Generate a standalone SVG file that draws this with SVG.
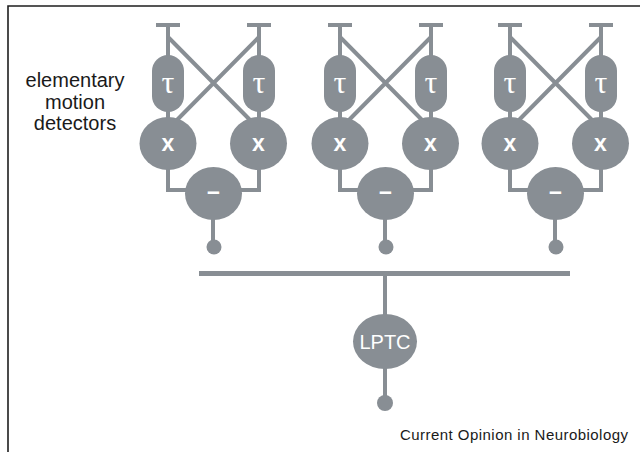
<svg xmlns="http://www.w3.org/2000/svg" width="640" height="452" viewBox="0 0 640 452">
  <style>
    .frame { fill: none; stroke: #1e1e1e; stroke-width: 1.6; }
    .wire { fill: none; stroke: #888e94; stroke-width: 4; }
    .shape { fill: #888e94; }
    .tau { font-family: "Liberation Serif", "DejaVu Serif", serif; font-size: 32px; fill: #ffffff; text-anchor: middle; }
    .op { font-family: "Liberation Sans", Arial, sans-serif; font-size: 23px; font-weight: bold; fill: #ffffff; text-anchor: middle; }
    .label { font-family: "Liberation Sans", Arial, sans-serif; font-size: 20px; fill: #1a1a1a; text-anchor: middle; }
    .lptc { font-family: "Liberation Sans", Arial, sans-serif; font-size: 20px; fill: #ffffff; text-anchor: middle; }
    .credit { font-family: "Liberation Sans", Arial, sans-serif; font-size: 15px; fill: #1a1a1a; }
  </style>

  <!-- open frame: left and top edges -->
  <path class="frame" d="M8,452 V6 H640"/>

  <text class="label" x="75" y="87">elementary</text>
  <text class="label" x="75" y="109">motion</text>
  <text class="label" x="75" y="130">detectors</text>

  <!-- connectors -->
  <g id="connectors">
    <!-- detector 1: L=168 R=259 M=213 -->
    <path class="wire" d="M156,25 H180 M168,25 V60 M247,25 H271 M259,25 V60"/>
    <path class="wire" d="M168,105 V125 M259,105 V125"/>
    <path class="wire" d="M168,37 L253,123 M259,37 L174,123"/>
    <path class="wire" d="M168,165 V190 H200 M259,165 V190 H226"/>
    <path class="wire" d="M213,215 V245"/>
    <!-- detector 2: L=340 R=431 M=385 -->
    <path class="wire" d="M328,25 H352 M340,25 V60 M419,25 H443 M431,25 V60"/>
    <path class="wire" d="M340,105 V125 M431,105 V125"/>
    <path class="wire" d="M340,37 L425,123 M431,37 L346,123"/>
    <path class="wire" d="M340,165 V190 H372 M431,165 V190 H398"/>
    <path class="wire" d="M385,215 V245"/>
    <!-- detector 3: L=510 R=601 M=555 -->
    <path class="wire" d="M498,25 H522 M510,25 V60 M589,25 H613 M601,25 V60"/>
    <path class="wire" d="M510,105 V125 M601,105 V125"/>
    <path class="wire" d="M510,37 L595,123 M601,37 L516,123"/>
    <path class="wire" d="M510,165 V190 H542 M601,165 V190 H568"/>
    <path class="wire" d="M555,215 V245"/>
    <!-- summation bus and LPTC -->
    <path class="wire" d="M199,273.5 H570" style="stroke-width:5"/>
    <path class="wire" d="M385,273 V320 M385,360 V400"/>
  </g>

  <!-- detector 1 -->
  <g id="emd1">
    <g id="emd1-tau-left"><rect class="shape" x="152" y="55" width="32" height="57" rx="16"/><text class="tau" x="168" y="93">τ</text></g>
    <g id="emd1-tau-right"><rect class="shape" x="243" y="55" width="32" height="57" rx="16"/><text class="tau" x="259" y="93">τ</text></g>
    <g id="emd1-mul-left"><ellipse class="shape" cx="168" cy="143.5" rx="28.5" ry="26.5"/><text class="op" x="168" y="151">x</text></g>
    <g id="emd1-mul-right"><ellipse class="shape" cx="258.5" cy="143.5" rx="28.5" ry="26.5"/><text class="op" x="258.5" y="151">x</text></g>
    <g id="emd1-sub"><ellipse class="shape" cx="213.5" cy="193.5" rx="28.5" ry="26.5"/><text class="op" x="213.5" y="198.5">–</text></g>
    <g id="emd1-out"><circle class="shape" cx="214" cy="247" r="7.5"/></g>
  </g>

  <!-- detector 2 -->
  <g id="emd2">
    <g id="emd2-tau-left"><rect class="shape" x="324" y="55" width="32" height="57" rx="16"/><text class="tau" x="340" y="93">τ</text></g>
    <g id="emd2-tau-right"><rect class="shape" x="415" y="55" width="32" height="57" rx="16"/><text class="tau" x="431" y="93">τ</text></g>
    <g id="emd2-mul-left"><ellipse class="shape" cx="340" cy="143.5" rx="28.5" ry="26.5"/><text class="op" x="340" y="151">x</text></g>
    <g id="emd2-mul-right"><ellipse class="shape" cx="430.5" cy="143.5" rx="28.5" ry="26.5"/><text class="op" x="430.5" y="151">x</text></g>
    <g id="emd2-sub"><ellipse class="shape" cx="385.5" cy="193.5" rx="28.5" ry="26.5"/><text class="op" x="385.5" y="198.5">–</text></g>
    <g id="emd2-out"><circle class="shape" cx="386" cy="247" r="7.5"/></g>
  </g>

  <!-- detector 3 -->
  <g id="emd3">
    <g id="emd3-tau-left"><rect class="shape" x="494" y="55" width="32" height="57" rx="16"/><text class="tau" x="510" y="93">τ</text></g>
    <g id="emd3-tau-right"><rect class="shape" x="585" y="55" width="32" height="57" rx="16"/><text class="tau" x="601" y="93">τ</text></g>
    <g id="emd3-mul-left"><ellipse class="shape" cx="510" cy="143.5" rx="28.5" ry="26.5"/><text class="op" x="510" y="151">x</text></g>
    <g id="emd3-mul-right"><ellipse class="shape" cx="600.5" cy="143.5" rx="28.5" ry="26.5"/><text class="op" x="600.5" y="151">x</text></g>
    <g id="emd3-sub"><ellipse class="shape" cx="555.5" cy="193.5" rx="28.5" ry="26.5"/><text class="op" x="555.5" y="198.5">–</text></g>
    <g id="emd3-out"><circle class="shape" cx="556" cy="247" r="7.5"/></g>
  </g>

  <!-- lobula plate tangential cell -->
  <g id="lptc">
    <ellipse class="shape" cx="385" cy="341.5" rx="32" ry="27.5"/>
    <text class="lptc" x="385" y="348.5">LPTC</text>
  </g>
  <g id="lptc-out"><circle class="shape" cx="385" cy="403" r="8"/></g>

  <text class="credit" x="400" y="440" textLength="228" lengthAdjust="spacing">Current Opinion in Neurobiology</text>
</svg>
